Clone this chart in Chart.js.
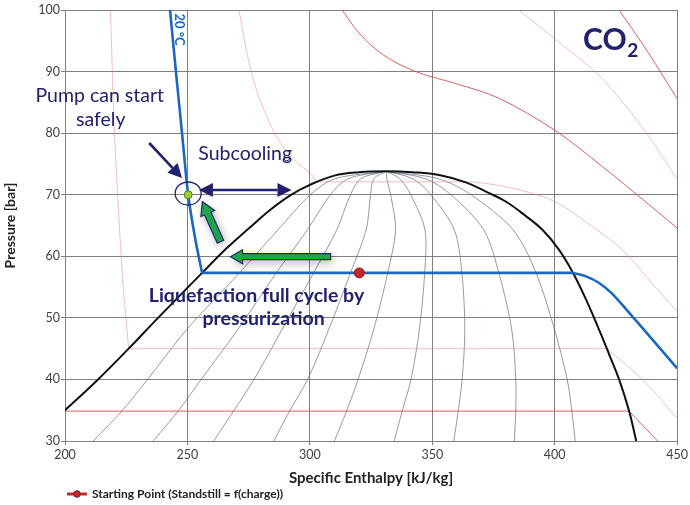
<!DOCTYPE html>
<html>
<head>
<meta charset="utf-8">
<style>
html,body{margin:0;padding:0;background:#fff;}
canvas{display:block;}
</style>
<script src="https://cdn.jsdelivr.net/npm/chart.js@4.4.0/dist/chart.umd.min.js"></script>
</head>
<body>
<canvas id="c" width="690" height="505"></canvas>
<script>
// ---------- axis ticks ----------
const xTicks = [200, 250, 300, 350, 400, 450];
const yTicks = [30, 40, 50, 60, 70, 80, 90, 100];

// ---------- saturation dome (h kJ/kg, P bar) ----------
const domeH = [200, 213.5, 226, 238, 256, 266, 275, 284, 292, 300, 310, 320, 331.2, 342, 352.8, 363.7, 373, 380, 388, 395, 401.5, 407.5, 413, 418.2, 422.3, 426.3, 430.4, 433.3];
const domeP = [35, 40, 45, 50, 57.3, 61.3, 64.5, 67.6, 69.9, 71.6, 73.1, 73.65, 73.8, 73.65, 73.2, 72.0, 70.3, 68.9, 66.6, 64.3, 61.2, 57.3, 52.8, 48, 44, 40, 34.85, 30];

// ---------- constant-quality lines x = 0.1 ... 0.9 ----------
const qualityP = [30, 34.85, 40, 48, 57.3, 64.3, 70, 72.6, 73.8];
const qualityH = [
  [211.5, 223.2, 233.7, 249.5, 271.2, 287, 300.2, 310.3, 331.2],
  [236, 246.2, 255.6, 270.4, 286.3, 299, 308.4, 315.6, 331.2],
  [260.7, 268.8, 277.2, 288.5, 301.5, 311, 316.6, 320.8, 331.2],
  [285.3, 291.7, 299.1, 307.6, 316.6, 323, 324.8, 326.1, 331.2],
  [310, 315, 319.7, 326, 331.8, 335, 333, 331.4, 331.2],
  [334.5, 337.7, 341.3, 344.7, 346.9, 347, 341.2, 336.7, 331.2],
  [358.8, 360.6, 362.2, 363.3, 362.1, 359, 349.4, 342, 331.2],
  [383.5, 384.1, 384.1, 382.5, 377.2, 371, 357.6, 347.2, 331.2],
  [408.4, 407, 405.1, 400, 392.4, 383, 365.8, 352.5, 331.2]
];

// ---------- isotherms [h, P] ----------
const iso0Sat     = [[200, 34.85], [430.4, 34.85]];
const iso0Vapour  = [[430.4, 34.85], [442, 30]];

const iso10Liquid = [[218.6, 100], [220.2, 80], [223.6, 56], [226, 45]];
const iso10Sat    = [[226, 45], [422.3, 45]];
const iso10Vapour = [[421.3, 45], [435.8, 40], [450, 33.7]];

const iso20Liquid = [[242.9, 100], [245.3, 90], [247.8, 80], [250.3, 70], [253.3, 62.6], [256, 57.3]];
const iso20Sat    = [[256, 57.3], [407.5, 57.3]];
const iso20Vapour = [[407.5, 57.3], [413, 56.7], [418, 55.7], [423, 54.1], [430.9, 50.6], [450, 41.8]];

const iso30Liquid = [[271, 100], [276, 90], [281, 84], [287.2, 78.9], [294, 75.5], [300.6, 73.3], [302.5, 72.1]];
const iso30Sat    = [[302.5, 72.1], [366, 72.1]];
const iso30Vapour = [[366, 72.1], [376, 71.6], [390, 70.3], [400, 68.9], [413, 65.5], [427.7, 61], [440, 55.5], [450, 51]];

const iso40 = [[313.2, 100], [320, 96.3], [330, 92.7], [343.2, 90], [360, 88], [377, 85.7], [400.3, 80.4], [420, 74.4], [434.5, 69.7], [450, 64.6]];
const iso50 = [[385.3, 100], [401, 95], [419, 89], [438.2, 79.6], [450, 72.5]];
const iso60 = [[426.3, 100], [438, 93.2], [450, 85.6]];

// ---------- marked states ----------
const pumpStartPoint = [[250.3, 70]];
const startingPoint  = [[320.2, 57.3]];
const legendLabel = 'Starting Point (Standstill = f(charge))';

// ---------- helpers ----------
const toXY = arr => arr.map(([h, p]) => ({x: h, y: p}));
const zipXY = (hs, ps) => hs.map((h, i) => ({x: h, y: ps[i]}));

const RED = 'rgba(212,70,70,0.85)';
const PINK = 'rgba(232,130,130,0.5)';
const BLUE = '#1a68c4';
const GREY = 'rgba(105,115,128,0.8)';
const NAVY = '#21216f';
const FONT = 'Lato, "Open Sans", sans-serif';

function lineDs(data, color, width, tension, order, extra) {
  return Object.assign({
    type: 'line', data: data, borderColor: color, borderWidth: width,
    pointRadius: 0, fill: false, tension: tension, order: order
  }, extra || {});
}
const mono = {cubicInterpolationMode: 'monotone'};

const datasets = [];
datasets.push(lineDs(toXY(startingPoint), '#c4262b', 0, 0, 0,
  {label: 'Starting Point', pointRadius: 5, pointBackgroundColor: '#c4262b', pointBorderColor: '#8e1b1e', pointBorderWidth: 1, showLine: false}));
datasets.push(lineDs(toXY(pumpStartPoint), '#8fc23a', 0, 0, 0,
  {label: 'Pump start', pointRadius: 4, pointBackgroundColor: '#9ccd3d', pointBorderColor: '#4f7a1c', pointBorderWidth: 1, showLine: false}));
datasets.push(lineDs(toXY(iso20Liquid), BLUE, 2.6, 0.3, 1));
datasets.push(lineDs(toXY(iso20Sat), BLUE, 2.6, 0, 1));
datasets.push(lineDs(toXY(iso20Vapour), BLUE, 2.6, 0, 1, mono));
datasets.push(lineDs(zipXY(domeH, domeP), '#111', 2, 0.4, 2));
[[iso0Sat, RED, 0], [iso0Vapour, RED, 0],
 [iso10Liquid, PINK, 0.3], [iso10Sat, PINK, 0], [iso10Vapour, PINK, 0, mono],
 [iso30Liquid, PINK, 0.35], [iso30Sat, PINK, 0], [iso30Vapour, PINK, 0, mono],
 [iso40, RED, 0.35], [iso50, PINK, 0, mono], [iso60, RED, 0, mono]
].forEach(([d, c, t, ex]) => datasets.push(lineDs(toXY(d), c, 1, t, 3, ex)));
qualityH.forEach(hs => datasets.push(lineDs(zipXY(hs, qualityP), GREY, 0.9, 0.3, 4)));

// ---------- drawing helpers for annotations ----------
function blockArrow(ctx, x1, y1, x2, y2, sw, hw, hl) {
  const dx = x2 - x1, dy = y2 - y1, L = Math.hypot(dx, dy);
  const ux = dx / L, uy = dy / L, nx = -uy, ny = ux;
  const bx = x2 - ux * hl, by = y2 - uy * hl;
  ctx.beginPath();
  ctx.moveTo(x1 + nx * sw / 2, y1 + ny * sw / 2);
  ctx.lineTo(bx + nx * sw / 2, by + ny * sw / 2);
  ctx.lineTo(bx + nx * hw / 2, by + ny * hw / 2);
  ctx.lineTo(x2, y2);
  ctx.lineTo(bx - nx * hw / 2, by - ny * hw / 2);
  ctx.lineTo(bx - nx * sw / 2, by - ny * sw / 2);
  ctx.lineTo(x1 - nx * sw / 2, y1 - ny * sw / 2);
  ctx.closePath();
}
function head(ctx, x1, y1, x2, y2, hl, hw) {
  const dx = x2 - x1, dy = y2 - y1, L = Math.hypot(dx, dy);
  const ux = dx / L, uy = dy / L, nx = -uy, ny = ux;
  const bx = x2 - ux * hl, by = y2 - uy * hl;
  ctx.beginPath();
  ctx.moveTo(x2, y2);
  ctx.lineTo(bx + nx * hw, by + ny * hw);
  ctx.lineTo(bx - nx * hw, by - ny * hw);
  ctx.closePath();
  ctx.fill();
  return [bx, by];
}
function lineArrow(ctx, x1, y1, x2, y2, both) {
  ctx.lineWidth = 2.6;
  let sx = x1, sy = y1;
  const e = head(ctx, x1, y1, x2, y2, 14, 7);
  if (both) { const s = head(ctx, x2, y2, x1, y1, 14, 7); sx = s[0]; sy = s[1]; }
  ctx.beginPath(); ctx.moveTo(sx, sy); ctx.lineTo(e[0], e[1]); ctx.stroke();
}

const annotations = {
  id: 'annotations',
  afterDatasetsDraw(chart) {
    const {ctx, scales: {x, y}} = chart;
    const X = v => x.getPixelForValue(v), Y = v => y.getPixelForValue(v);
    ctx.save();

    // green block arrows with shadow
    [[263.5, 62.37, 256.1, 68.87, 7, 15, 13], [308.5, 59.93, 267.6, 59.93, 6, 14, 12]].forEach(a => {
      ctx.save();
      ctx.shadowColor = 'rgba(0,0,0,0.35)'; ctx.shadowBlur = 8; ctx.shadowOffsetX = 2; ctx.shadowOffsetY = 3;
      blockArrow(ctx, X(a[0]), Y(a[1]), X(a[2]), Y(a[3]), a[4], a[5], a[6]);
      ctx.fillStyle = '#1ea54c'; ctx.fill();
      ctx.restore();
      blockArrow(ctx, X(a[0]), Y(a[1]), X(a[2]), Y(a[3]), a[4], a[5], a[6]);
      ctx.strokeStyle = '#1d2a6a'; ctx.lineWidth = 1.2; ctx.stroke();
    });

    // navy arrows
    ctx.strokeStyle = NAVY; ctx.fillStyle = NAVY;
    lineArrow(ctx, X(234.4), Y(78.4), X(247.8), Y(72.7), false);
    lineArrow(ctx, X(254.7), Y(70.77), X(292.5), Y(70.77), true);

    // circle around the pump start point
    ctx.lineWidth = 1.3;
    ctx.beginPath();
    ctx.ellipse(X(250.3), Y(70.2), 13, 11.5, 0, 0, Math.PI * 2);
    ctx.stroke();
    ctx.beginPath();
    ctx.arc(X(290.6), Y(75.96), 2.8, 0, Math.PI * 2);
    ctx.lineWidth = 1; ctx.stroke();

    // texts
    ctx.textAlign = 'center'; ctx.textBaseline = 'middle';
    ctx.fillStyle = NAVY;
    ctx.font = '19.5px ' + FONT;
    ctx.fillText('Pump can start', X(214.2), Y(86.03));
    ctx.fillText('safely', X(214.6), Y(82.13));
    ctx.fillText('Subcooling', X(273.6), Y(76.73));
    ctx.font = 'bold 19.5px ' + FONT;
    ctx.fillText('Liquefaction full cycle by', X(278.2), Y(53.55));
    ctx.fillText('pressurization', X(281.1), Y(49.8));

    ctx.textAlign = 'left';
    ctx.font = 'bold 30px ' + FONT;
    ctx.fillText('CO', X(411.6), Y(95.13));
    const w = ctx.measureText('CO').width;
    ctx.font = 'bold 19px ' + FONT;
    ctx.fillText('2', X(411.6) + w + 0.5, Y(93.3));

    // 20 °C label on the isotherm
    ctx.save();
    ctx.translate(X(246.6), Y(96.83));
    ctx.rotate(Math.PI / 2);
    ctx.textAlign = 'center';
    ctx.fillStyle = BLUE;
    ctx.font = 'bold 13px ' + FONT;
    ctx.fillText('20 °C', 0, 0);
    ctx.restore();

    ctx.restore();
  },
  afterDraw(chart) {
    // legend
    const ctx = chart.ctx;
    const ly = 494, lx = chart.chartArea.left + 2;
    ctx.save();
    ctx.strokeStyle = '#c4262b'; ctx.lineWidth = 3;
    ctx.beginPath(); ctx.moveTo(lx, ly); ctx.lineTo(lx + 20, ly); ctx.stroke();
    ctx.beginPath(); ctx.arc(lx + 10, ly, 3.3, 0, Math.PI * 2);
    ctx.fillStyle = '#c4262b'; ctx.fill();
    ctx.strokeStyle = '#7e1a1c'; ctx.lineWidth = 1; ctx.stroke();
    ctx.fillStyle = '#222'; ctx.font = 'bold 12px ' + FONT;
    ctx.textAlign = 'left'; ctx.textBaseline = 'middle';
    ctx.fillText(legendLabel, lx + 25, ly);
    ctx.restore();
  }
};

new Chart(document.getElementById('c'), {
  type: 'scatter',
  data: {datasets: datasets},
  options: {
    responsive: false,
    animation: false,
    devicePixelRatio: 1,
    layout: {padding: {top: 10, right: 8, bottom: 18, left: 0}},
    plugins: {legend: {display: false}, tooltip: {enabled: false}},
    scales: {
      x: {
        type: 'linear', min: 200, max: 450,
        afterBuildTicks: s => { s.ticks = xTicks.map(v => ({value: v})); },
        afterFit: s => { s.height = 46; },
        grid: {color: '#7f7f7f', lineWidth: 1, tickLength: 4, drawTicks: true},
        border: {color: '#7f7f7f', width: 1},
        ticks: {color: '#404040', font: {family: FONT, size: 12.5}, padding: 2, maxRotation: 0},
        title: {display: true, text: 'Specific Enthalpy [kJ/kg]', color: '#222',
          font: {family: FONT, size: 15, weight: 'bold'}, padding: {top: 0, bottom: 0}}
      },
      y: {
        type: 'linear', min: 30, max: 100,
        afterBuildTicks: s => { s.ticks = yTicks.map(v => ({value: v})); },
        afterFit: s => { s.width = 65; },
        grid: {color: '#7f7f7f', lineWidth: 1, tickLength: 4, drawTicks: true},
        border: {color: '#7f7f7f', width: 1},
        ticks: {color: '#404040', font: {family: FONT, size: 12.5}, padding: 1},
        title: {display: true, text: 'Pressure [bar]', color: '#222',
          font: {family: FONT, size: 14, weight: 'bold'}, padding: {top: 2, bottom: 0}}
      }
    }
  },
  plugins: [annotations]
});
</script>
</body>
</html>
